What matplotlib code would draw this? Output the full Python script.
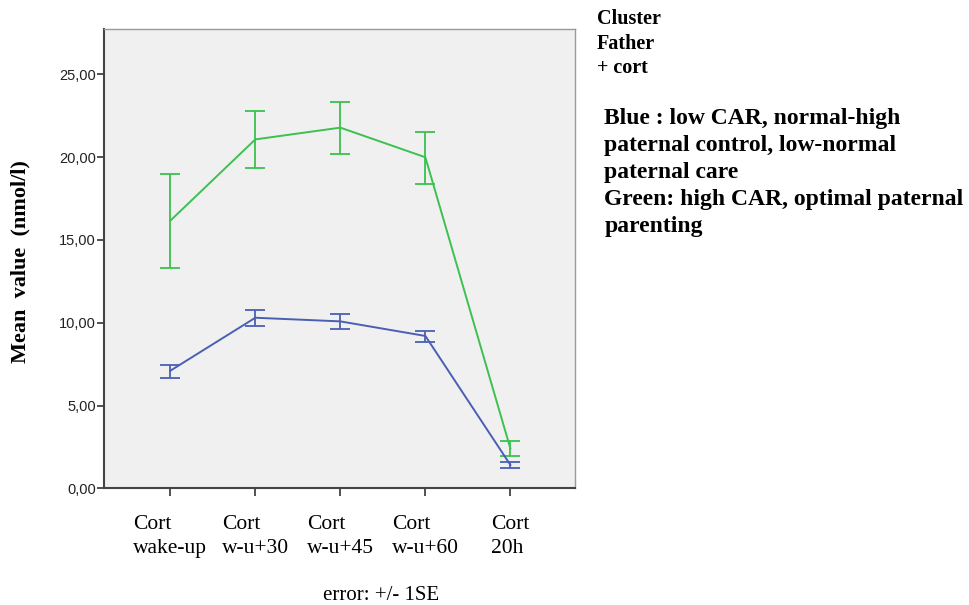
import matplotlib
matplotlib.use("Agg")
from matplotlib import pyplot as plt

# cortisol means and +/- 1SE bounds
time_points = ["Cort\nwake-up", "Cort\nw-u+30", "Cort\nw-u+45", "Cort\nw-u+60", "Cort\n20h"]

blue_mean = [7.10, 10.30, 10.08, 9.20, 1.41]
blue_low = [6.68, 9.80, 9.62, 8.85, 1.24]
blue_high = [7.47, 10.75, 10.51, 9.52, 1.57]

green_mean = [16.16, 21.07, 21.78, 19.99, 2.40]
green_low = [13.28, 19.34, 20.21, 18.38, 1.95]
green_high = [18.98, 22.78, 23.35, 21.53, 2.88]

y_ticks = [0, 5, 10, 15, 20, 25]

BLUE = "#4a5fb4"
GREEN = "#3cc150"
SERIF = ["Liberation Serif", "DejaVu Serif"]
SANS = ["Liberation Sans", "DejaVu Sans"]


def plot_series(ax, xs, mean, low, high, color):
    yerr = [[m - lo for m, lo in zip(mean, low)], [hi - m for m, hi in zip(mean, high)]]
    ax.errorbar(xs, mean, yerr=yerr, color=color, lw=1.4, elinewidth=1.3,
                capsize=7.5, capthick=1.3)


fig = plt.figure(figsize=(9.7, 6.05), dpi=100)
ax = fig.add_axes([0.1072, 0.1929, 0.4856, 0.7587])
ax.set_facecolor("#f0f0f0")

xs = list(range(len(time_points)))
plot_series(ax, xs, green_mean, green_low, green_high, GREEN)
plot_series(ax, xs, blue_mean, blue_low, blue_high, BLUE)

ax.set_xlim(-0.78, 4.76)
ax.set_ylim(0, 27.72)

ax.set_xticks(xs)
ax.set_xticklabels(time_points, family=SERIF, fontsize=15.5, linespacing=1.34,
                   multialignment="left")
ax.set_yticks(y_ticks)
ax.set_yticklabels([f"{v:.2f}".replace(".", ",") for v in y_ticks],
                   family=SANS, fontsize=10.5, color="#222222")
ax.tick_params(axis="x", length=6, width=1.2, color="#333333", pad=13.5)
ax.tick_params(axis="y", length=5, width=1.2, color="#333333", pad=1)

for side in ["left", "bottom"]:
    ax.spines[side].set_color("#444444")
    ax.spines[side].set_linewidth(1.5)
for side in ["top", "right"]:
    ax.spines[side].set_color("#9a9a9a")
    ax.spines[side].set_linewidth(1.0)

fig.text(0.021, 0.567, "Mean  value  (nmol/l)", rotation=90, ha="center", va="center",
         family=SERIF, fontweight="bold", fontsize=16)
fig.text(0.393, 0.016, "error: +/- 1SE", ha="center", va="center",
         family=SERIF, fontsize=15)

fig.text(0.615, 0.985, "Cluster\nFather\n+ cort", ha="left", va="top",
         family=SERIF, fontweight="bold", fontsize=14.5, linespacing=1.3)
fig.text(0.623, 0.822,
         "Blue : low CAR, normal-high\npaternal control, low-normal\npaternal care\n"
         "Green: high CAR, optimal paternal\nparenting",
         ha="left", va="top", family=SERIF, fontweight="bold", fontsize=17,
         linespacing=1.38)

plt.savefig("out.png", dpi=100)
